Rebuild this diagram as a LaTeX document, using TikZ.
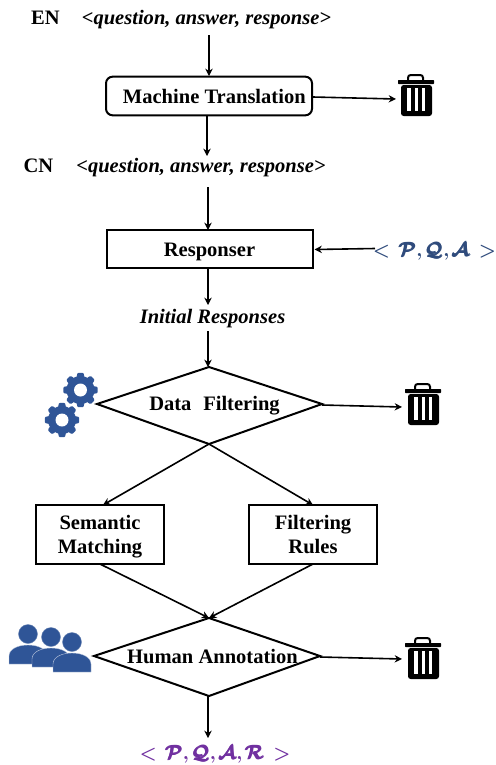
\documentclass[tikz,border=0pt]{standalone}
\usepackage{fontspec}
\usepackage{amsmath}
\setmainfont{Liberation Serif}
\usetikzlibrary{arrows.meta}
\definecolor{iconblue}{HTML}{2F5597}
\definecolor{tupleblue}{HTML}{2F4B7C}
\definecolor{tuplepurple}{HTML}{7030A0}
\tikzset{
  x=0.75pt,y=-0.75pt,
  every node/.style={font=\bfseries\fontsize{15.4}{17.5}\selectfont,inner sep=0pt,outer sep=0pt,align=center},
  boxnode/.style={draw=black,line width=1.5pt,minimum width=154.5pt,minimum height=29pt},
  smallbox/.style={draw=black,line width=1.5pt,minimum width=96pt,minimum height=44pt},
  flow/.style={line width=1.2pt,-{Stealth[length=5.5pt,width=5.5pt]}},
  decision/.style={draw=black,line width=1.5pt,fill=white,line join=miter},
  tuple/.style={font=\bfseries\fontsize{15}{17}\selectfont},
  pics/trashcan/.style={code={
    \fill[black,rounded corners=0.5pt] (0,6) rectangle (36,10);
    \draw[black,line width=1.5pt,rounded corners=2pt] (10,7) -- (10,1) -- (25,1) -- (25,7);
    \fill[black,rounded corners=2pt] (3,11) rectangle (34,42);
    \fill[white] (9,14) rectangle (12.5,37);
    \fill[white] (16.5,14) rectangle (20,37);
    \fill[white] (23.5,14) rectangle (27,37);
  }},
}
\newcommand{\gearshape}[2]{%
  \fill[iconblue] (#1,#2) circle[radius=14];
  \foreach \k in {0,...,7} {
    \fill[iconblue,rounded corners=0.8pt]
      ({#1+13*cos(\k*45-18)},{#2+13*sin(\k*45-18)})
      -- ({#1+17.5*cos(\k*45-10)},{#2+17.5*sin(\k*45-10)})
      -- ({#1+17.5*cos(\k*45+10)},{#2+17.5*sin(\k*45+10)})
      -- ({#1+13*cos(\k*45+18)},{#2+13*sin(\k*45+18)}) -- cycle;
  }
  \fill[white] (#1,#2) circle[radius=6.5];
}
\newcommand{\personshape}[3]{% head x, head y, body left
  \fill[iconblue,draw=iconblue!70!white,line width=0.3pt] (#1,#2) circle[radius=9.5];
  \fill[iconblue,draw=white!70!iconblue,line width=0.3pt]
    (#3,#2+30) -- (#3,#2+22) .. controls (#3,#2+15) and (#3+9,#2+11) .. (#3+19,#2+11)
    .. controls (#3+29,#2+11) and (#3+38,#2+15) .. (#3+38,#2+22) -- (#3+38,#2+30) -- cycle;
}
\newcommand{\callig}[1]{\pmb{\mathcal{#1}}}
\newcommand{\tgap}{\mkern2.3mu}
\begin{document}
\begin{tikzpicture}
\useasboundingbox (0,0) rectangle (496,765);
% texts
\node (en) at (45.5,18) {EN};
\node (entuple) at (206.5,20) {\itshape <question, answer, response>};
\node (cn) at (38.5,165.5) {CN};
\node (cntuple) at (201,168) {\itshape <question, answer, response>};
\node (init) at (212.5,319) {\itshape Initial Responses};
% boxes
\node[boxnode,rounded corners=5pt] (mt) at (209,96) {\hspace*{8pt}Machine Translation};
\node[boxnode] (resp) at (209.5,249) {\rule{0pt}{15pt}Responser};
\node[smallbox] (sem) at (100,534.5) {\rule{0pt}{14pt}Semantic\\[0.5pt]Matching};
\node[smallbox] (rules) at (313,534.5) {\rule{0pt}{11pt}Filtering\\[0.5pt]Rules};
% diamonds
\coordinate (dfL) at (97,404);\coordinate (dfT) at (209,367);\coordinate (dfR) at (322,404);\coordinate (dfB) at (209,444);
\draw[decision] (dfL) -- (dfT) -- (dfR) -- (dfB) -- cycle;
\node (df) at (214.5,406) {Data\hspace{5pt} Filtering};
\coordinate (haL) at (94,656);\coordinate (haT) at (209,618);\coordinate (haR) at (320,656);\coordinate (haB) at (209,696);
\draw[decision] (haL) -- (haT) -- (haR) -- (haB) -- cycle;
\node (ha) at (212.5,656) {Human Annotation};
% tuples
\node[tuple,text=tupleblue] (pqa) at (434.5,251) {{\boldmath$<\tgap\callig{P}{,}\tgap\callig{Q}{,}\tgap\callig{A}\tgap>$}};
\node[tuple,text=tuplepurple] (pqar) at (215,754) {{\boldmath$<\tgap\callig{P}{,}\tgap\callig{Q}{,}\tgap\callig{A}{,}\tgap\callig{R}\tgap>$}};
% icons
\pic at (398,74) {trashcan};
\pic at (405,383) {trashcan};
\pic at (405,637) {trashcan};
\gearshape{80.5}{390}
\gearshape{62}{420}
\personshape{28}{634}{9}
\personshape{51}{637}{32}
\personshape{72}{642}{53}
% connector ends
\coordinate (enb) at (209,35);\coordinate (mtt) at (209,76);
\coordinate (mtb) at (207,116);\coordinate (cnt) at (207,156);
\coordinate (mtr) at (313,97);\coordinate (ta) at (396,99);
\coordinate (cnb) at (208,187);\coordinate (rt) at (208,230);
\coordinate (pl) at (375,248.5);\coordinate (rr) at (314.5,249.5);
\coordinate (rb) at (208,268);\coordinate (it) at (208,305);
\coordinate (ib) at (208,331);\coordinate (dt) at (208,367);
\coordinate (dr) at (322,405);\coordinate (tb) at (402,407);
\coordinate (hr) at (320,657);\coordinate (tc) at (402,659);
\coordinate (st) at (103,505);\coordinate (ft) at (313,505);
\coordinate (sb) at (100,564);\coordinate (fb) at (313,564);
\coordinate (hb) at (208,696);\coordinate (pt) at (208,738);
% connectors
\draw[flow] (enb) -- (mtt);
\draw[flow] (mtb) -- (cnt);
\draw[flow] (mtr) -- (ta);
\draw[flow] (cnb) -- (rt);
\draw[flow] (pl) -- (rr);
\draw[flow] (rb) -- (it);
\draw[flow] (ib) -- (dt);
\draw[flow] (dr) -- (tb);
\draw[flow] (dfB) -- (st);
\draw[flow] (dfB) -- (ft);
\draw[flow] (sb) -- (haT);
\draw[flow] (fb) -- (haT);
\draw[flow] (hr) -- (tc);
\draw[flow] (hb) -- (pt);
\end{tikzpicture}
\end{document}
